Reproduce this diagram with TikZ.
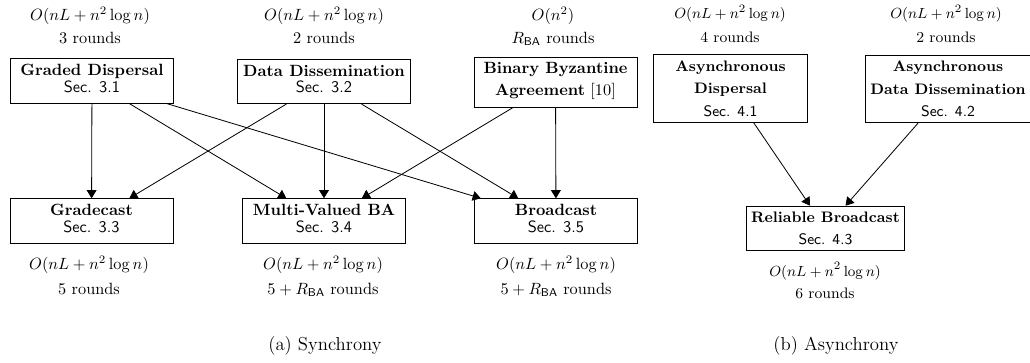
\documentclass[tikz,border=0pt]{standalone}
\usepackage{amsmath}
\usetikzlibrary{arrows.meta}
\begin{document}
\begin{tikzpicture}[x=0.6135pt,y=-0.6135pt,
  box/.style={draw, line width=0.5pt, align=center, inner xsep=3.5pt, inner ysep=3.5pt, text depth=3.4pt, minimum width=100pt},
  abox/.style={draw, line width=0.5pt, align=center, inner xsep=3pt, inner ysep=3.5pt, font=\fontsize{9.33}{11.2}\selectfont},
  lbl/.style={anchor=base, inner sep=0pt},
  albl/.style={lbl, font=\fontsize{9.33}{11.2}\selectfont},
  captxt/.style={anchor=base, inner sep=0pt, font=\fontsize{11.5}{13.8}\selectfont},
  arr/.style={-{Triangle[length=5pt,width=6pt]}, line width=0.5pt},
]
\useasboundingbox (0,0) rectangle (1030,362);

% synchrony boxes
\node[box] (gd) at (92,81) {\textbf{Graded Dispersal}\\[-2pt]\textsf{Sec. 3.1}};
\node[box] (dd) at (324,81.5) {\textbf{Data Dissemination}\\[-2pt]\textsf{Sec. 3.2}};
\node[box] (bba) at (555.5,82) {\textbf{Binary Byzantine}\\[1.3pt]\textbf{Agreement} [10]};
\node[box] (gc) at (91.5,221) {\textbf{Gradecast}\\[-2pt]\textsf{Sec. 3.3}};
\node[box] (mv) at (324,221) {\textbf{Multi-Valued BA}\\[-2pt]\textsf{Sec. 3.4}};
\node[box] (bc) at (556,221) {\textbf{Broadcast}\\[-2pt]\textsf{Sec. 3.5}};

% asynchrony boxes
\node[abox, minimum width=94pt] (ad) at (730.5,88.5) {\textbf{Asynchronous}\\[2.6pt]\textbf{Dispersal}\\[2.6pt]\textsf{Sec. 4.1}};
\node[abox, minimum width=98.2pt] (add) at (948,89) {\textbf{Asynchronous}\\[2.6pt]\textbf{Data Dissemination}\\[2.6pt]\textsf{Sec. 4.2}};
\node[abox, minimum width=96.3pt] (rb) at (825.5,228.5) {\textbf{Reliable Broadcast}\\[2.6pt]\textsf{Sec. 4.3}};

% labels synchrony top
\node[lbl] (gdc) at (90,20.7) {$O(nL+n^2\log n)$};
\node[lbl] (gdr) at (90,43.5) {3 rounds};
\node[lbl] (ddc) at (324,20.7) {$O(nL+n^2\log n)$};
\node[lbl] (ddr) at (324,43.5) {2 rounds};
\node[lbl] (bbac) at (553,20.7) {$O(n^2)$};
\node[lbl] (bbar) at (553,43.5) {$R_{\mathsf{BA}}$ rounds};

% labels synchrony bottom
\node[lbl] (gcc) at (89,269) {$O(nL+n^2\log n)$};
\node[lbl] (gcr) at (89,294.5) {5 rounds};
\node[lbl] (mvc) at (323,269) {$O(nL+n^2\log n)$};
\node[lbl] (mvr) at (323,294.5) {$5+R_{\mathsf{BA}}$ rounds};
\node[lbl] (bcc) at (556,269) {$O(nL+n^2\log n)$};
\node[lbl] (bcr) at (556,294.5) {$5+R_{\mathsf{BA}}$ rounds};

% labels asynchrony
\node[albl] (adc) at (730,18.5) {$O(nL+n^2\log n)$};
\node[albl] (adr) at (730,42) {4 rounds};
\node[albl] (addc) at (946,18.5) {$O(nL+n^2\log n)$};
\node[albl] (addr) at (946,42) {2 rounds};
\node[albl] (rbc) at (825,276) {$O(nL+n^2\log n)$};
\node[albl] (rbr) at (825,298) {6 rounds};

% captions
\node[captxt] (capa) at (325,350) {(a) Synchrony};
\node[captxt] (capb) at (836,350) {(b) Asynchrony};

% connectors
\draw[arr] (gd) -- (gc);
\draw[arr] (gd) -- (mv);
\draw[arr] (gd) -- (bc);
\draw[arr] (dd) -- (gc);
\draw[arr] (dd) -- (mv);
\draw[arr] (dd) -- (bc);
\draw[arr] (bba) -- (mv);
\draw[arr] (bba) -- (bc);
\draw[arr] (ad) -- (rb);
\draw[arr] (add) -- (rb);
\end{tikzpicture}
\end{document}
